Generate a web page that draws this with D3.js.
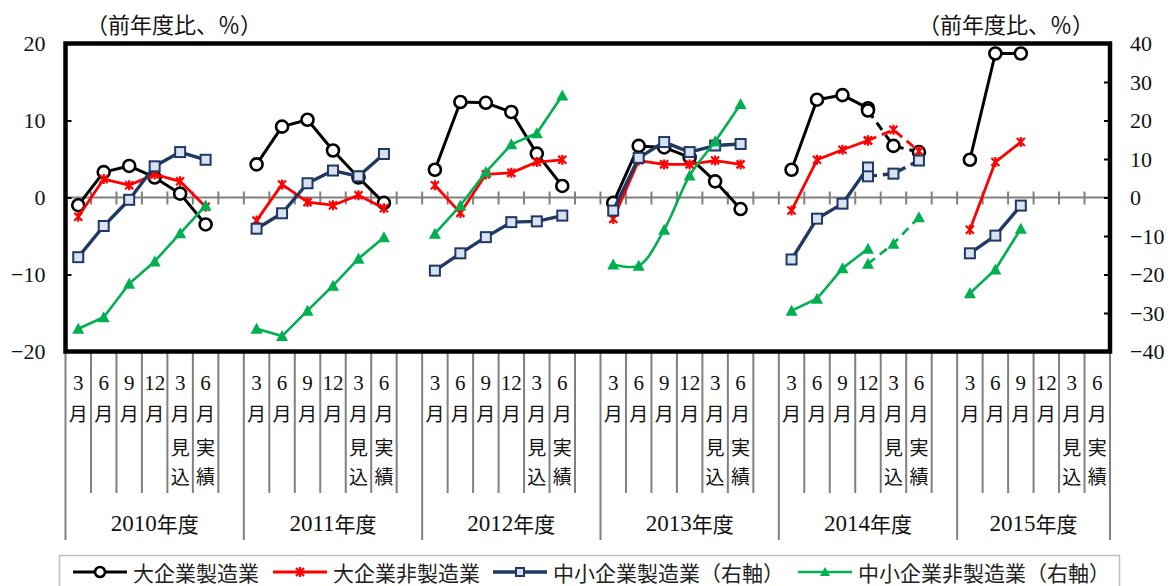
<!DOCTYPE html>
<html>
<head>
<meta charset="utf-8">
<script src="https://cdn.jsdelivr.net/npm/d3@7"></script>
<style>
  html, body { margin: 0; padding: 0; background: #fff; }
  svg { display: block; }
  .serif { font-family: "Liberation Serif", "DejaVu Serif", "Noto Sans CJK JP", serif; }
  .cjk { font-family: "Noto Sans CJK JP", "Noto Sans", sans-serif; }
</style>
</head>
<body>
<svg id="chart" width="1175" height="586"></svg>
<script>
// Fiscal years and the six survey periods of each year
const years = ["2010年度", "2011年度", "2012年度", "2013年度", "2014年度", "2015年度"];
const periodLabels = [
  ["3", "月"], ["6", "月"], ["9", "月"], ["12", "月"],
  ["3", "月", "見", "込"], ["6", "月", "実", "績"]
];
const leftTicks = [-20, -10, 0, 10, 20];
const rightTicks = [-40, -30, -20, -10, 0, 10, 20, 30, 40];

// 大企業製造業 (left axis), one row per fiscal year
const largeMfg = [
  [-1.0, 3.3, 4.1, 2.6, 0.5, -3.5],
  [4.3, 9.2, 10.1, 6.1, 2.6, -0.7],
  [3.6, 12.4, 12.3, 11.1, 5.7, 1.5],
  [-0.7, 6.7, 6.5, 5.2, 2.1, -1.5],
  [3.6, 12.7, 13.3, 11.6, null, null],
  [4.9, 18.7, 18.7, null, null, null]
];
// 大企業非製造業 (left axis)
const largeNonMfg = [
  [-2.5, 2.4, 1.6, 3.0, 2.1, -1.2],
  [-3.0, 1.7, -0.6, -1.0, 0.3, -1.4],
  [1.6, -2.0, 3.0, 3.2, 4.6, 4.9],
  [-2.8, 4.8, 4.3, 4.3, 4.8, 4.3],
  [-1.7, 4.9, 6.2, 7.4, null, null],
  [-4.2, 4.6, 7.2, null, null, null]
];
// 中小企業製造業 (right axis)
const smallMfg = [
  [-15.5, -7.4, -0.6, 8.1, 11.8, 9.8],
  [-8.1, -4.1, 3.7, 7.0, 5.5, 11.3],
  [-19.0, -14.5, -10.3, -6.4, -6.2, -4.7],
  [-3.4, 10.3, 14.4, 11.8, 13.5, 13.9],
  [-16.1, -5.5, -1.6, 7.8, null, null],
  [-14.5, -9.9, -2.1, null, null, null]
];
// 中小企業非製造業 (right axis)
const smallNonMfg = [
  [-34.1, -31.1, -22.4, -16.6, -9.3, -2.1],
  [-34.1, -36.0, -29.4, -22.9, -15.9, -10.3],
  [-9.4, -2.1, 6.6, 13.8, 16.7, 26.5],
  [-17.4, -17.7, -8.4, 5.7, 14.6, 24.3],
  [-29.4, -26.3, -18.4, -13.3, null, null],
  [-24.9, -18.7, -8.1, null, null, null]
];
// Revised 2014 path (12月 → 3月見込 → 6月実績), drawn dashed
const largeMfgRevised = [11.3, 6.7, 5.9];
const largeNonMfgRevised = [7.4, 8.8, 6.0];
const smallMfgRevised = [5.5, 6.2, 9.6];
const smallNonMfgRevised = [-17.2, -12.0, -5.1];
const revisedYear = 4;
const revisedPeriods = [3, 4, 5];

const seriesNames = ["大企業製造業", "大企業非製造業", "中小企業製造業（右軸）", "中小企業非製造業（右軸）"];

const svg = d3.select("#chart");
const plot = { left: 65.5, right: 1110, top: 43.5, bottom: 351.5 };

// Category slots: six periods per year plus an empty slot between years
const slots = [];
years.forEach((y, yi) => {
  periodLabels.forEach((p, pi) => slots.push(`${yi}:${pi}`));
  if (yi < years.length - 1) slots.push(`${yi}:gap`);
});
const x = d3.scaleBand().domain(slots).range([plot.left, plot.right]).padding(0);
const bw = x.bandwidth();
const cx = (yi, pi) => x(`${yi}:${pi}`) + bw / 2;

const yL = d3.scaleLinear().domain([-20, 20]).range([plot.bottom, plot.top]);
const yR = d3.scaleLinear().domain([-40, 40]).range([plot.bottom, plot.top]);

// Unit captions
svg.append("text").attr("class", "cjk").attr("x", 86).attr("y", 23)
  .attr("dominant-baseline", "central").attr("font-size", 22).attr("fill", "#111")
  .text("（前年度比、％）");
svg.append("text").attr("class", "cjk").attr("x", 918).attr("y", 23)
  .attr("dominant-baseline", "central").attr("font-size", 22).attr("fill", "#111")
  .text("（前年度比、％）");

// Zero line with category ticks crossing it
const boundaries = slots.map(s => x(s)).concat([plot.right]);
svg.append("line").attr("x1", plot.left).attr("x2", plot.right)
  .attr("y1", yL(0)).attr("y2", yL(0)).attr("stroke", "#808080").attr("stroke-width", 2);
svg.append("g").selectAll("line").data(boundaries).join("line")
  .attr("x1", d => d).attr("x2", d => d)
  .attr("y1", yL(0) - 6).attr("y2", yL(0) + 7)
  .attr("stroke", "#808080").attr("stroke-width", 2);

// Category grid below the plot
const yearStarts = years.map((y, yi) => x(`${yi}:0`)).concat([plot.right]);
svg.append("g").selectAll("line").data(boundaries).join("line")
  .attr("x1", d => d).attr("x2", d => d)
  .attr("y1", plot.bottom).attr("y2", 493)
  .attr("stroke", "#808080").attr("stroke-width", 2);
svg.append("g").selectAll("line").data(yearStarts).join("line")
  .attr("x1", d => d).attr("x2", d => d)
  .attr("y1", 493).attr("y2", 540)
  .attr("stroke", "#808080").attr("stroke-width", 2);

// Period labels, written vertically
const lineY = [383, 412, 446, 475];
const labelG = svg.append("g");
years.forEach((y, yi) => {
  periodLabels.forEach((lines, pi) => {
    lines.forEach((t, li) => {
      const isDigit = /^[0-9]+$/.test(t);
      labelG.append("text")
        .attr("class", isDigit ? "serif" : "cjk")
        .attr("x", cx(yi, pi)).attr("y", lineY[li])
        .attr("text-anchor", "middle").attr("dominant-baseline", "central")
        .attr("font-size", isDigit ? 21 : 19).attr("fill", "#111")
        .text(t);
    });
  });
  const x0 = yearStarts[yi], x1 = yearStarts[yi + 1];
  const yt = labelG.append("text").attr("x", (x0 + x1) / 2).attr("y", 523)
    .attr("text-anchor", "middle").attr("dominant-baseline", "central").attr("fill", "#111");
  yt.append("tspan").attr("class", "serif").attr("font-size", 23).text(y.slice(0, 4));
  yt.append("tspan").attr("class", "cjk").attr("font-size", 21).text(y.slice(4));
});

// Axes
const axL = svg.append("g").attr("transform", `translate(${plot.left},0)`)
  .call(d3.axisLeft(yL).tickValues(leftTicks).tickSize(-6).tickPadding(20));
const axR = svg.append("g").attr("transform", `translate(${plot.right},0)`)
  .call(d3.axisRight(yR).tickValues(rightTicks).tickSize(-6).tickPadding(20));
[axL, axR].forEach(ax => {
  ax.select(".domain").remove();
  ax.selectAll(".tick line").attr("stroke", "#000").attr("stroke-width", 2);
  ax.selectAll(".tick text").attr("class", "serif").attr("font-size", 22).attr("fill", "#111");
});

// Plot frame
svg.append("rect").attr("x", plot.left).attr("y", plot.top)
  .attr("width", plot.right - plot.left).attr("height", plot.bottom - plot.top)
  .attr("fill", "none").attr("stroke", "#000").attr("stroke-width", 4.5);

// Marker painters
const markers = {
  circle: (g, s) => g.append("circle").attr("r", s ? 5 : 6)
    .attr("fill", "#fff").attr("stroke", "#000").attr("stroke-width", 2.6),
  star: (g, s) => g.append("path").attr("d", "M-4,-4L4,4M-4,4L4,-4M0,-5L0,5")
    .attr("fill", "none").attr("stroke", "#ff0000").attr("stroke-width", 2.2),
  square: (g, s) => g.append("rect").attr("x", s ? -4 : -5).attr("y", s ? -4 : -5)
    .attr("width", s ? 8 : 10).attr("height", s ? 8 : 10)
    .attr("fill", "#d9e2f0").attr("stroke", "#1f3864").attr("stroke-width", 2),
  triangle: (g, s) => g.append("path").attr("d", s ? "M0,-5L5,4L-5,4Z" : "M0,-6L6,5L-6,5Z")
    .attr("fill", "#00b050")
};

const series = [
  { name: seriesNames[0], rows: largeMfg, revised: largeMfgRevised, y: yL, color: "#000000", width: 3, marker: "circle" },
  { name: seriesNames[1], rows: largeNonMfg, revised: largeNonMfgRevised, y: yL, color: "#ff0000", width: 2.8, marker: "star" },
  { name: seriesNames[2], rows: smallMfg, revised: smallMfgRevised, y: yR, color: "#1f3864", width: 3.4, marker: "square" },
  { name: seriesNames[3], rows: smallNonMfg, revised: smallNonMfgRevised, y: yR, color: "#00b050", width: 2.6, marker: "triangle", smoothYear: 3 }
];

const linesG = svg.append("g");
series.forEach(s => {
  const g = linesG.append("g");
  const pts = [];
  s.rows.forEach((row, yi) => {
    const data = row.map((v, pi) => ({ yi, pi, v })).filter(d => d.v != null);
    const line = d3.line()
      .x(d => cx(d.yi, d.pi)).y(d => s.y(d.v))
      .curve(s.smoothYear === yi ? d3.curveCatmullRom.alpha(0.5) : d3.curveLinear);
    g.append("path").attr("d", line(data)).attr("fill", "none")
      .attr("stroke", s.color).attr("stroke-width", s.width).attr("stroke-linejoin", "round");
    data.forEach(d => pts.push(d));
  });
  const rev = s.revised.map((v, i) => ({ yi: revisedYear, pi: revisedPeriods[i], v }));
  const rline = d3.line().x(d => cx(d.yi, d.pi)).y(d => s.y(d.v));
  g.append("path").attr("d", rline(rev)).attr("fill", "none")
    .attr("stroke", s.color).attr("stroke-width", s.width).attr("stroke-dasharray", "9,6");
  rev.forEach(d => pts.push(d));
  pts.forEach(d => {
    const mg = g.append("g").attr("transform", `translate(${cx(d.yi, d.pi)},${s.y(d.v)})`);
    markers[s.marker](mg, false);
  });
});

// Legend
svg.append("rect").attr("x", 59.5).attr("y", 555.5).attr("width", 1060).attr("height", 40)
  .attr("fill", "#fff").attr("stroke", "#bfbfbf").attr("stroke-width", 1.5);
const legendX = [73, 273, 493, 798];
series.forEach((s, i) => {
  const lx = legendX[i], ly = 572;
  const g = svg.append("g");
  g.append("line").attr("x1", lx).attr("x2", lx + 54).attr("y1", ly).attr("y2", ly)
    .attr("stroke", s.color).attr("stroke-width", s.width);
  const mg = g.append("g").attr("transform", `translate(${lx + 27},${ly})`);
  markers[s.marker](mg, true);
  g.append("text").attr("class", "cjk").attr("x", lx + 60).attr("y", ly)
    .attr("dominant-baseline", "central").attr("font-size", 21).attr("fill", "#222")
    .text(s.name);
});
</script>
</body>
</html>
